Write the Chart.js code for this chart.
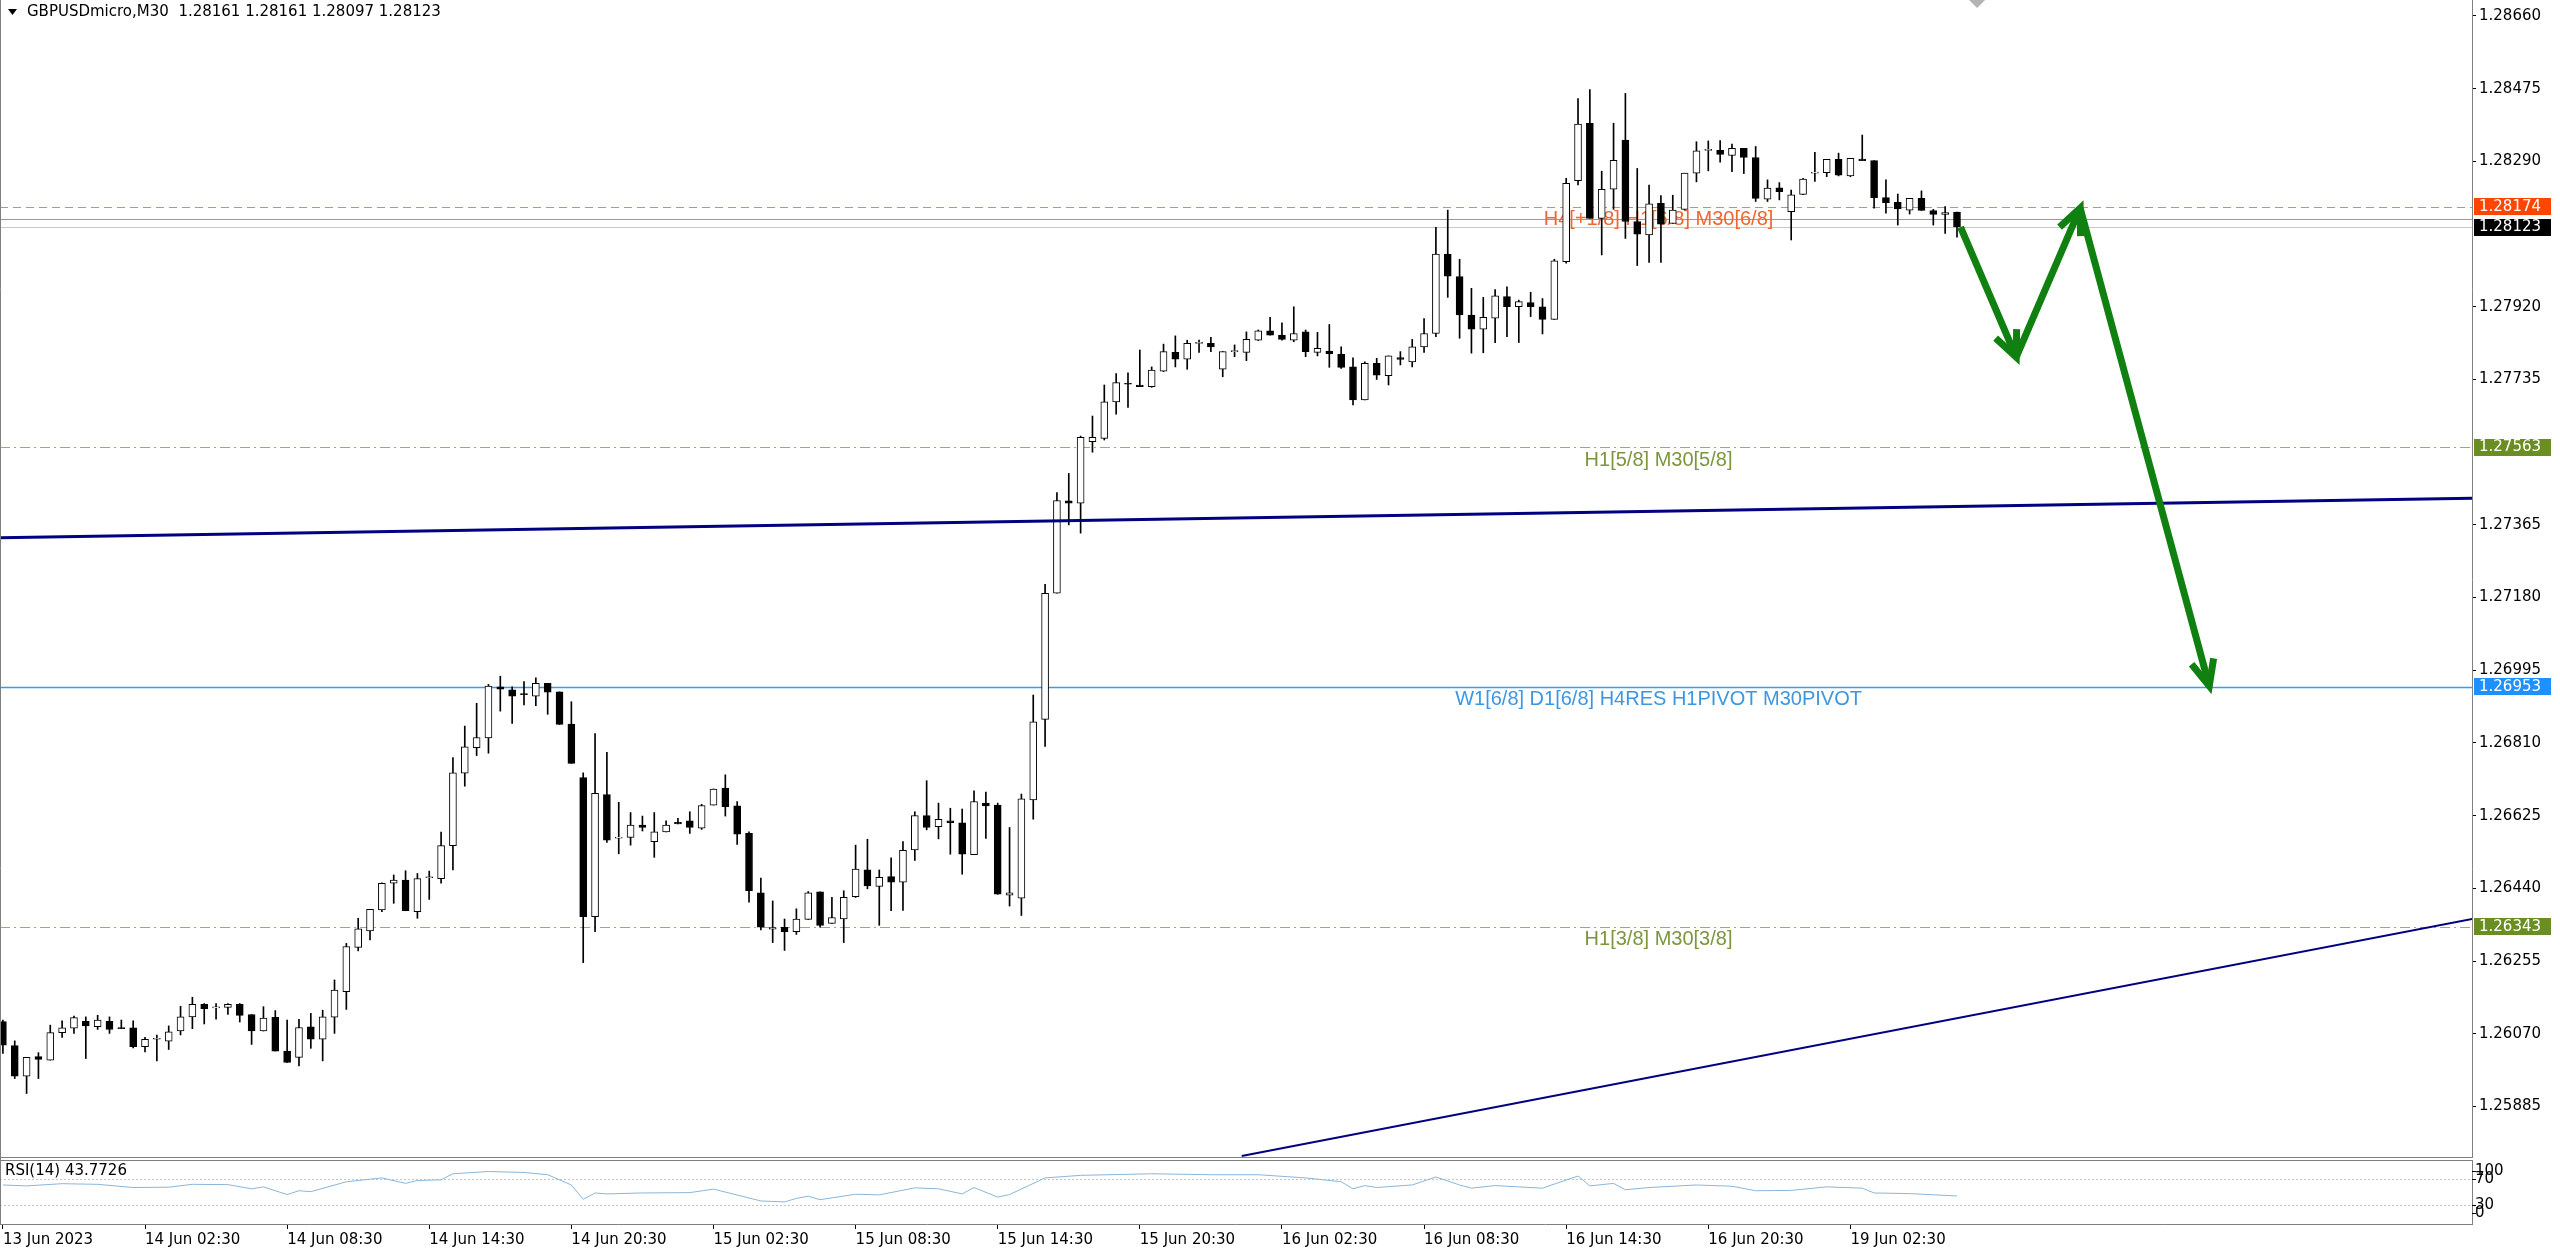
<!DOCTYPE html>
<html>
<head>
<meta charset="utf-8">
<title>GBPUSDmicro,M30</title>
<script src="https://cdn.jsdelivr.net/npm/chart.js@4.4.0/dist/chart.umd.min.js"></script>
<style>
  html, body { margin: 0; padding: 0; background: #fff; }
  #wrap { position: relative; width: 2560px; height: 1252px; overflow: hidden; background: #fff; }
  #price-chart { position: absolute; left: 0; top: 0; }
  #rsi-chart { position: absolute; left: 0; top: 1158px; }
</style>
</head>
<body>
<div id="wrap">
  <canvas id="price-chart" width="2560" height="1158"></canvas>
  <canvas id="rsi-chart" width="2560" height="94"></canvas>
</div>
<script>
// M30 candles, 13 Jun 14:30 .. 19 Jun 07:00
const opens = [
  1.26101, 1.26040, 1.25962, 1.26012, 1.26003, 1.26073, 1.26084, 1.26102, 1.26088, 1.26102,
  1.26085, 1.26085, 1.26037, 1.26056, 1.26051, 1.26077, 1.26113, 1.26145, 1.26136, 1.26137,
  1.26145, 1.26119, 1.26077, 1.26112, 1.26026, 1.26010, 1.26088, 1.26056, 1.26112, 1.26177,
  1.26290, 1.26332, 1.26385, 1.26453, 1.26461, 1.26381, 1.26467, 1.26465, 1.26549, 1.26733,
  1.26798, 1.26823, 1.26953, 1.26945, 1.26934, 1.26929, 1.26962, 1.26940, 1.26858, 1.26722,
  1.26368, 1.26679, 1.26568, 1.26570, 1.26601, 1.26559, 1.26584, 1.26608, 1.26612, 1.26593,
  1.26652, 1.26695, 1.26650, 1.26580, 1.26429, 1.26336, 1.26341, 1.26330, 1.26361, 1.26431,
  1.26351, 1.26362, 1.26419, 1.26487, 1.26445, 1.26470, 1.26456, 1.26538, 1.26625, 1.26597,
  1.26612, 1.26607, 1.26526, 1.26657, 1.26652, 1.26423, 1.26415, 1.26665, 1.26870, 1.27191,
  1.27426, 1.27420, 1.27577, 1.27585, 1.27678, 1.27725, 1.27721, 1.27717, 1.27756, 1.27804,
  1.27787, 1.27827, 1.27827, 1.27761, 1.27806, 1.27804, 1.27835, 1.27859, 1.27848, 1.27835,
  1.27856, 1.27804, 1.27807, 1.27799, 1.27767, 1.27683, 1.27776, 1.27745, 1.27791, 1.27780,
  1.27818, 1.27852, 1.28054, 1.27997, 1.27899, 1.27863, 1.27891, 1.27946, 1.27920, 1.27931,
  1.27920, 1.27888, 1.28035, 1.28241, 1.28387, 1.28145, 1.28219, 1.28344, 1.28137, 1.28103,
  1.28183, 1.28132, 1.28168, 1.28260, 1.28318, 1.28318, 1.28305, 1.28323, 1.28300, 1.28194,
  1.28223, 1.28162, 1.28206, 1.28260, 1.28261, 1.28295, 1.28253, 1.28296, 1.28292, 1.28198,
  1.28186, 1.28166, 1.28196, 1.28165, 1.28155, 1.28161
];
const highs = [
  1.26105, 1.26052, 1.26010, 1.26022, 1.26092, 1.26103, 1.26115, 1.26113, 1.26117, 1.26113,
  1.26105, 1.26103, 1.26061, 1.26067, 1.26090, 1.26140, 1.26163, 1.26147, 1.26147, 1.26147,
  1.26147, 1.26119, 1.26139, 1.26129, 1.26105, 1.26107, 1.26122, 1.26130, 1.26207, 1.26300,
  1.26364, 1.26387, 1.26454, 1.26474, 1.26485, 1.26478, 1.26484, 1.26583, 1.26773, 1.26853,
  1.26911, 1.26959, 1.26980, 1.26953, 1.26966, 1.26976, 1.26962, 1.26940, 1.26915, 1.26734,
  1.26834, 1.26786, 1.26659, 1.26633, 1.26624, 1.26633, 1.26612, 1.26618, 1.26635, 1.26654,
  1.26693, 1.26729, 1.26661, 1.26584, 1.26466, 1.26408, 1.26362, 1.26388, 1.26432, 1.26431,
  1.26417, 1.26434, 1.26550, 1.26565, 1.26487, 1.26518, 1.26559, 1.26635, 1.26714, 1.26657,
  1.26644, 1.26642, 1.26688, 1.26685, 1.26657, 1.26595, 1.26680, 1.26932, 1.27214, 1.27447,
  1.27496, 1.27591, 1.27642, 1.27721, 1.27750, 1.27752, 1.27810, 1.27767, 1.27825, 1.27846,
  1.27835, 1.27835, 1.27842, 1.27806, 1.27823, 1.27856, 1.27861, 1.27893, 1.27879, 1.27920,
  1.27861, 1.27855, 1.27875, 1.27818, 1.27790, 1.27780, 1.27789, 1.27795, 1.27806, 1.27837,
  1.27890, 1.28122, 1.28166, 1.28041, 1.27967, 1.27944, 1.27964, 1.27971, 1.27937, 1.27957,
  1.27941, 1.28041, 1.28247, 1.28450, 1.28473, 1.28265, 1.28387, 1.28463, 1.28272, 1.28230,
  1.28203, 1.28204, 1.28260, 1.28340, 1.28342, 1.28343, 1.28334, 1.28323, 1.28328, 1.28243,
  1.28236, 1.28217, 1.28247, 1.28313, 1.28295, 1.28311, 1.28298, 1.28357, 1.28292, 1.28243,
  1.28207, 1.28196, 1.28215, 1.28168, 1.28175, 1.28161
];
const lows = [
  1.26020, 1.25956, 1.25918, 1.25956, 1.26003, 1.26061, 1.26071, 1.26007, 1.26081, 1.26071,
  1.26083, 1.26034, 1.26024, 1.26001, 1.26030, 1.26067, 1.26083, 1.26095, 1.26107, 1.26119,
  1.26100, 1.26043, 1.26077, 1.26026, 1.25997, 1.25988, 1.26033, 1.26001, 1.26071, 1.26132,
  1.26281, 1.26309, 1.26381, 1.26402, 1.26383, 1.26364, 1.26412, 1.26453, 1.26487, 1.26700,
  1.26778, 1.26784, 1.26891, 1.26860, 1.26907, 1.26905, 1.26883, 1.26857, 1.26758, 1.26251,
  1.26330, 1.26557, 1.26528, 1.26550, 1.26586, 1.26519, 1.26584, 1.26604, 1.26580, 1.26590,
  1.26652, 1.26624, 1.26552, 1.26405, 1.26334, 1.26302, 1.26282, 1.26323, 1.26361, 1.26341,
  1.26351, 1.26302, 1.26417, 1.26439, 1.26346, 1.26383, 1.26384, 1.26511, 1.26589, 1.26566,
  1.26527, 1.26476, 1.26526, 1.26567, 1.26425, 1.26395, 1.26371, 1.26616, 1.26801, 1.27191,
  1.27365, 1.27344, 1.27550, 1.27581, 1.27647, 1.27664, 1.27717, 1.27715, 1.27755, 1.27767,
  1.27761, 1.27804, 1.27806, 1.27742, 1.27793, 1.27783, 1.27834, 1.27848, 1.27835, 1.27831,
  1.27793, 1.27795, 1.27766, 1.27763, 1.27670, 1.27683, 1.27735, 1.27721, 1.27772, 1.27767,
  1.27804, 1.27844, 1.27944, 1.27840, 1.27802, 1.27803, 1.27829, 1.27844, 1.27829, 1.27895,
  1.27851, 1.27888, 1.28031, 1.28230, 1.28145, 1.28052, 1.28168, 1.28094, 1.28025, 1.28033,
  1.28033, 1.28132, 1.28166, 1.28238, 1.28266, 1.28288, 1.28264, 1.28259, 1.28188, 1.28188,
  1.28192, 1.28090, 1.28205, 1.28239, 1.28251, 1.28253, 1.28251, 1.28292, 1.28171, 1.28158,
  1.28128, 1.28156, 1.28165, 1.28128, 1.28107, 1.28097
];
const closes = [
  1.26041, 1.25962, 1.26010, 1.26005, 1.26073, 1.26085, 1.26111, 1.26090, 1.26105, 1.26081,
  1.26083, 1.26037, 1.26056, 1.26057, 1.26075, 1.26113, 1.26145, 1.26134, 1.26137, 1.26145,
  1.26117, 1.26077, 1.26110, 1.26026, 1.25997, 1.26086, 1.26056, 1.26113, 1.26181, 1.26292,
  1.26337, 1.26387, 1.26453, 1.26461, 1.26383, 1.26465, 1.26468, 1.26549, 1.26734, 1.26800,
  1.26824, 1.26955, 1.26947, 1.26929, 1.26933, 1.26962, 1.26939, 1.26857, 1.26758, 1.26368,
  1.26682, 1.26563, 1.26570, 1.26601, 1.26595, 1.26584, 1.26601, 1.26604, 1.26595, 1.26651,
  1.26693, 1.26648, 1.26578, 1.26434, 1.26341, 1.26340, 1.26330, 1.26362, 1.26429, 1.26346,
  1.26366, 1.26417, 1.26489, 1.26446, 1.26468, 1.26456, 1.26537, 1.26625, 1.26595, 1.26616,
  1.26607, 1.26527, 1.26661, 1.26650, 1.26425, 1.26429, 1.26668, 1.26864, 1.27191, 1.27427,
  1.27420, 1.27588, 1.27588, 1.27678, 1.27727, 1.27723, 1.27717, 1.27759, 1.27806, 1.27787,
  1.27827, 1.27828, 1.27818, 1.27806, 1.27807, 1.27837, 1.27859, 1.27848, 1.27837, 1.27852,
  1.27806, 1.27814, 1.27801, 1.27766, 1.27683, 1.27776, 1.27746, 1.27795, 1.27786, 1.27818,
  1.27852, 1.28054, 1.27998, 1.27899, 1.27863, 1.27893, 1.27948, 1.27920, 1.27933, 1.27920,
  1.27888, 1.28037, 1.28234, 1.28385, 1.28145, 1.28219, 1.28293, 1.28137, 1.28105, 1.28182,
  1.28130, 1.28166, 1.28260, 1.28317, 1.28319, 1.28308, 1.28323, 1.28300, 1.28196, 1.28222,
  1.28213, 1.28205, 1.28245, 1.28261, 1.28295, 1.28255, 1.28298, 1.28292, 1.28198, 1.28185,
  1.28169, 1.28196, 1.28165, 1.28155, 1.28160, 1.28123
];

// time axis: one label every 12 bars
const tickIdx = [0, 12, 24, 36, 48, 60, 72, 84, 96, 108, 120, 132, 144, 156];
const tickLabels = [
  '13 Jun 2023', '14 Jun 02:30', '14 Jun 08:30', '14 Jun 14:30', '14 Jun 20:30',
  '15 Jun 02:30', '15 Jun 08:30', '15 Jun 14:30', '15 Jun 20:30', '16 Jun 02:30',
  '16 Jun 08:30', '16 Jun 14:30', '16 Jun 20:30', '19 Jun 02:30'
];
const priceTicks = [
  1.28660, 1.28475, 1.28290, 1.27920, 1.27735, 1.27365, 1.27180,
  1.26995, 1.26810, 1.26625, 1.26440, 1.26255, 1.26070, 1.25885
];

// RSI(14)
const rsiIdx = [
  0, 2, 5, 8, 11, 14, 16, 19, 21, 22, 24, 25, 26, 29, 32, 34, 35, 37, 38, 41,
  44, 46, 48, 49, 50, 51, 54, 58, 60, 64, 66, 67, 68, 69, 72, 74, 77, 79, 81, 82,
  84, 85, 88, 91, 97, 102, 106, 110, 113, 114, 115, 116, 119, 121, 123, 124, 126, 130, 133, 134,
  136, 137, 139, 143, 146, 148, 151, 154, 157, 158, 161, 165
];
const rsiVals = [
  61, 59.5, 63, 62, 57, 57.5, 62, 61.5, 55, 58, 46, 52, 50.5, 66, 72, 63.5, 68, 69, 78.5, 82,
  80.5, 77, 61, 38.5, 48.5, 47, 48.5, 49, 54.5, 36, 34.5, 40, 43.5, 38, 46.5, 45.5, 56.5, 55, 47, 57,
  42, 46, 72, 76, 78.5, 77, 77, 72, 66, 55, 60, 57, 61, 73.5, 61, 56, 60, 56, 75, 59.5,
  63.5, 53.5, 57, 61, 59, 52, 52.5, 58, 56, 48.5, 47.5, 43.77
];
const rsiLevels = [70, 30];
const rsiTicks = [100, 70, 30, 0];

// horizontal levels drawn on the chart
const levelPrices = [1.28174, 1.28143, 1.28123, 1.27563, 1.26953, 1.26343];
const levelTexts = ['H4[+1/8] H1[6/8] M30[6/8]', '', '', 'H1[5/8] M30[5/8]', 'W1[6/8] D1[6/8] H4RES H1PIVOT M30PIVOT', 'H1[3/8] M30[3/8]'];
const levelTextIdx = 139.8;

// trend lines (bar index, price)
const trendAIdx = [-0.245, 208.5];
const trendAPrice = [1.27332, 1.27433];
const trendBIdx = [104.6, 208.5];
const trendBPrice = [1.25759, 1.26362];

// forecast path
const pathIdx = [165.3, 170.0, 175.4, 186.3];
const pathPrice = [1.28123, 1.27792, 1.28171, 1.26955];

const AXIS_X = 2472;
const X_MIN = -0.245;
const X_MAX = X_MIN + AXIS_X / 11.843;
const AXIS_FONT = { family: 'DejaVu Sans', size: 15 };

const levelStyle = [
  { color: '#e8845a', dash: [8, 5], width: 1, box: '#ff4500', text: '#ee6630' },
  { color: '#d48a58', dash: [], width: 1 },
  { color: '#c8c8c8', dash: [], width: 1, box: '#000000' },
  { color: '#a3a87a', dash: [10, 4, 2, 4], width: 1, box: '#6b8e23', text: '#7b963d' },
  { color: '#3c9be6', dash: [], width: 1.5, box: '#1e90ff', text: '#3d97e0' },
  { color: '#a3a87a', dash: [10, 4, 2, 4], width: 1, box: '#6b8e23', text: '#7b963d' },
];

const bars = opens.map((o, i) => i);
const bodyData = bars.map((i) => ({ x: i, y: [opens[i], closes[i]] }));
const wickData = bars.map((i) => ({ x: i, y: [lows[i], highs[i]] }));

function drawArrowSeg(ctx, x1, y1, x2, y2) {
  ctx.beginPath();
  ctx.moveTo(x1, y1);
  ctx.lineTo(x2, y2);
  ctx.stroke();
  const ang = Math.atan2(y2 - y1, x2 - x1);
  const len = 28;
  const spread = 0.42;
  ctx.beginPath();
  ctx.moveTo(x2 - len * Math.cos(ang - spread), y2 - len * Math.sin(ang - spread));
  ctx.lineTo(x2, y2);
  ctx.lineTo(x2 - len * Math.cos(ang + spread), y2 - len * Math.sin(ang + spread));
  ctx.stroke();
}

function clipArea(ctx, area) {
  ctx.beginPath();
  ctx.rect(area.left, area.top, area.right - area.left, area.bottom - area.top);
  ctx.clip();
}

function noPadFit(scale) {
  scale.width = 2560 - AXIS_X;
  scale.paddingTop = 0;
  scale.paddingBottom = 0;
}

const priceDecor = {
  id: 'priceDecor',
  beforeDatasetsDraw(chart) {
    const { ctx, chartArea: area, scales } = chart;
    ctx.save();
    clipArea(ctx, area);
    levelPrices.forEach((p, i) => {
      const st = levelStyle[i];
      const y = Math.round(scales.y.getPixelForValue(p)) + 0.5;
      ctx.strokeStyle = st.color;
      ctx.lineWidth = st.width;
      ctx.setLineDash(st.dash);
      ctx.beginPath();
      ctx.moveTo(area.left, y);
      ctx.lineTo(area.right, y);
      ctx.stroke();
    });
    ctx.setLineDash([]);
    ctx.font = '20px "Liberation Sans", Arial, sans-serif';
    ctx.textAlign = 'center';
    ctx.textBaseline = 'middle';
    const tx = scales.x.getPixelForValue(levelTextIdx);
    levelPrices.forEach((p, i) => {
      if (!levelTexts[i]) return;
      ctx.fillStyle = levelStyle[i].text;
      ctx.fillText(levelTexts[i], tx, scales.y.getPixelForValue(p) + 13);
    });
    ctx.restore();
  },
  afterDatasetsDraw(chart) {
    const { ctx, chartArea: area, scales } = chart;
    ctx.save();
    clipArea(ctx, area);
    ctx.strokeStyle = '#108010';
    ctx.lineWidth = 7;
    ctx.lineJoin = 'miter';
    for (let i = 1; i < pathIdx.length; i++) {
      drawArrowSeg(
        ctx,
        scales.x.getPixelForValue(pathIdx[i - 1]), scales.y.getPixelForValue(pathPrice[i - 1]),
        scales.x.getPixelForValue(pathIdx[i]), scales.y.getPixelForValue(pathPrice[i])
      );
    }
    ctx.restore();
  },
  afterDraw(chart) {
    const { ctx, chartArea: area, scales } = chart;
    ctx.save();
    // window frame
    ctx.strokeStyle = '#808080';
    ctx.lineWidth = 1;
    ctx.beginPath();
    ctx.moveTo(0.5, 0);
    ctx.lineTo(0.5, area.bottom);
    ctx.moveTo(0, area.bottom - 0.5);
    ctx.lineTo(area.right, area.bottom - 0.5);
    ctx.stroke();

    // header
    ctx.fillStyle = '#000';
    ctx.beginPath();
    ctx.moveTo(8, 9);
    ctx.lineTo(17, 9);
    ctx.lineTo(12.5, 15);
    ctx.closePath();
    ctx.fill();
    ctx.font = '15px "DejaVu Sans"';
    ctx.textAlign = 'left';
    ctx.textBaseline = 'middle';
    ctx.fillText('GBPUSDmicro,M30  1.28161 1.28161 1.28097 1.28123', 27, 12);

    // chart shift marker
    const sx = scales.x.getPixelForValue(166.7);
    ctx.fillStyle = '#b4b4b4';
    ctx.beginPath();
    ctx.moveTo(sx - 8, 0);
    ctx.lineTo(sx + 8, 0);
    ctx.lineTo(sx, 8);
    ctx.closePath();
    ctx.fill();

    // price tags on the axis
    ctx.font = '15px "DejaVu Sans"';
    [2, 0, 3, 4, 5].forEach((i) => {
      const st = levelStyle[i];
      const y = scales.y.getPixelForValue(levelPrices[i]);
      ctx.fillStyle = st.box;
      ctx.fillRect(area.right + 2, Math.round(y - 8.5), 77, 17);
      ctx.fillStyle = '#fff';
      ctx.fillText(levelPrices[i].toFixed(5), area.right + 7, y + 0.5);
    });
    ctx.restore();
  },
};

new Chart(document.getElementById('price-chart'), {
  type: 'bar',
  data: {
    datasets: [
      {
        type: 'line',
        data: trendAIdx.map((x, i) => ({ x, y: trendAPrice[i] })),
        borderColor: '#000080',
        borderWidth: 3,
        pointRadius: 0,
        order: 0,
      },
      {
        type: 'line',
        data: trendBIdx.map((x, i) => ({ x, y: trendBPrice[i] })),
        borderColor: '#000080',
        borderWidth: 2,
        pointRadius: 0,
        order: 0,
      },
      {
        data: bodyData,
        barThickness: 7,
        minBarLength: 1,
        grouped: false,
        borderWidth: 1,
        borderSkipped: false,
        borderColor: '#000',
        backgroundColor: (c) => (closes[c.dataIndex] >= opens[c.dataIndex] ? '#ffffff' : '#000000'),
        order: 1,
      },
      {
        data: wickData,
        barThickness: 1,
        grouped: false,
        borderWidth: 0,
        backgroundColor: '#000',
        order: 2,
      },
    ],
  },
  options: {
    responsive: false,
    animation: false,
    devicePixelRatio: 1,
    layout: { padding: 0, autoPadding: false },
    plugins: { legend: { display: false }, tooltip: { enabled: false } },
    scales: {
      x: { type: 'linear', min: X_MIN, max: X_MAX, display: false, offset: false },
      y: {
        position: 'right',
        min: 1.257539,
        max: 1.287007,
        afterFit: noPadFit,
        afterBuildTicks(scale) { scale.ticks = priceTicks.map((v) => ({ value: v })); },
        ticks: { font: AXIS_FONT, color: '#000', padding: 3, callback: (v) => Number(v).toFixed(5) },
        grid: { drawOnChartArea: false, tickLength: 4, color: '#000' },
        border: { display: true, color: '#808080' },
      },
    },
  },
  plugins: [priceDecor],
});

const rsiDecor = {
  id: 'rsiDecor',
  beforeDatasetsDraw(chart) {
    const { ctx, chartArea: area, scales } = chart;
    ctx.save();
    ctx.strokeStyle = '#c4c4c4';
    ctx.lineWidth = 1;
    ctx.setLineDash([2, 2]);
    rsiLevels.forEach((lv) => {
      const y = Math.round(scales.y.getPixelForValue(lv)) + 0.5;
      ctx.beginPath();
      ctx.moveTo(area.left, y);
      ctx.lineTo(area.right, y);
      ctx.stroke();
    });
    ctx.restore();
  },
  afterDraw(chart) {
    const { ctx, chartArea: area, scales } = chart;
    ctx.save();
    ctx.strokeStyle = '#808080';
    ctx.lineWidth = 1;
    ctx.beginPath();
    ctx.moveTo(0, area.top + 0.5);
    ctx.lineTo(area.right, area.top + 0.5);
    ctx.moveTo(0.5, 0);
    ctx.lineTo(0.5, area.bottom);
    ctx.stroke();
    ctx.fillStyle = '#000';
    ctx.font = '15px "DejaVu Sans"';
    ctx.textAlign = 'left';
    ctx.textBaseline = 'middle';
    ctx.fillText('RSI(14) 43.7726', 5, 13);
    // indicator scale labels, kept inside the pane
    ctx.strokeStyle = '#000';
    rsiTicks.forEach((v) => {
      const raw = scales.y.getPixelForValue(v);
      const y = Math.min(Math.max(raw, area.top + 11), area.bottom - 11);
      ctx.beginPath();
      ctx.moveTo(area.right, Math.round(y) + 0.5);
      ctx.lineTo(area.right + 4, Math.round(y) + 0.5);
      ctx.stroke();
      ctx.fillText(String(v), area.right + 3, y);
    });
    ctx.restore();
  },
};

new Chart(document.getElementById('rsi-chart'), {
  type: 'line',
  data: {
    datasets: [{
      data: rsiIdx.map((x, i) => ({ x, y: rsiVals[i] })),
      borderColor: '#8ab6d8',
      borderWidth: 1,
      pointRadius: 0,
    }],
  },
  options: {
    responsive: false,
    animation: false,
    devicePixelRatio: 1,
    layout: { padding: { top: 2, left: 0, right: 0, bottom: 0 }, autoPadding: false },
    plugins: { legend: { display: false }, tooltip: { enabled: false } },
    scales: {
      x: {
        type: 'linear',
        min: X_MIN,
        max: X_MAX,
        offset: false,
        afterFit(scale) { scale.height = 28; scale.paddingLeft = 0; scale.paddingRight = 0; },
        afterBuildTicks(scale) { scale.ticks = tickIdx.map((v) => ({ value: v })); },
        ticks: {
          autoSkip: false,
          maxRotation: 0,
          align: 'start',
          padding: 2,
          font: AXIS_FONT,
          color: '#000',
          callback: (v, i) => tickLabels[i],
        },
        grid: { drawOnChartArea: false, tickLength: 5, color: '#000' },
        border: { display: true, color: '#808080' },
      },
      y: {
        position: 'right',
        min: 0,
        max: 100,
        afterFit: noPadFit,
        ticks: { display: false },
        grid: { display: false },
        border: { display: true, color: '#808080' },
      },
    },
  },
  plugins: [rsiDecor],
});
</script>
</body>
</html>
